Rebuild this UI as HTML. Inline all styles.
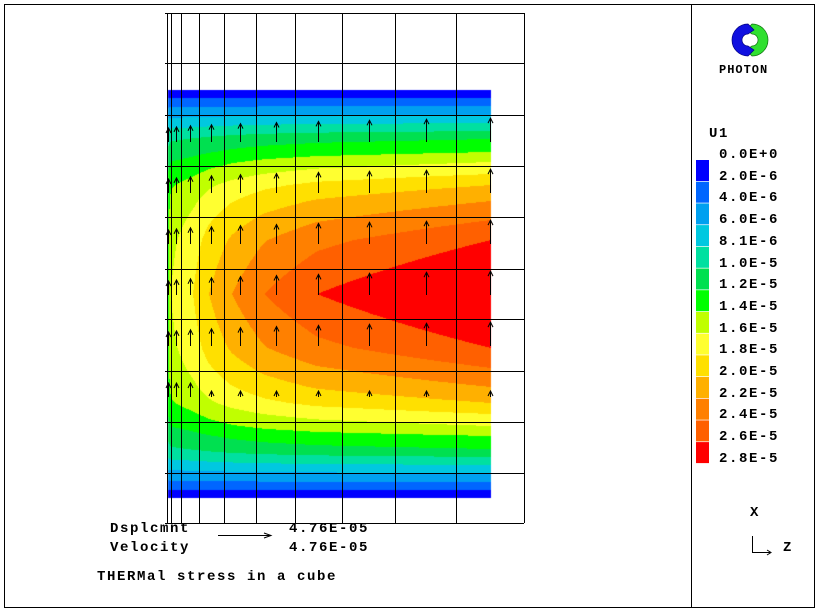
<!DOCTYPE html>
<html><head><meta charset="utf-8"><style>
body{margin:0;background:#fff;width:818px;height:611px;overflow:hidden;position:relative;font-family:"Liberation Mono",monospace;font-weight:bold}
.t{position:absolute;font-size:14px;letter-spacing:1.6px;line-height:14px;color:#000;white-space:pre}
canvas{position:absolute;left:0;top:0}
</style></head><body>
<canvas id="c" width="818" height="611"></canvas>
<svg width="818" height="611" style="position:absolute;left:0;top:0">
<rect x="4.5" y="4.5" width="810" height="603" fill="none" stroke="#000"/>
<line x1="691.5" y1="4" x2="691.5" y2="608" stroke="#000"/>
<g id="grid" stroke="#000" stroke-width="1"></g>
<g id="arr" stroke="#000" stroke-width="1" fill="none"></g>
<line x1="218" y1="535.5" x2="270" y2="535.5" stroke="#000"/>
<path d="M264 533 L271 535.5 L264 538" fill="none" stroke="#000"/>
<path d="M752 24 A16 16 0 0 1 752 56 L746 50 L752 46 A6 6 0 0 0 752 34 L746 30 Z" fill="#30e030" stroke="#107010" stroke-width="0.7"/>
<path d="M748 24 A16 16 0 0 0 748 56 L754 50 L748 46 A6 6 0 0 1 748 34 L754 30 Z" fill="#1010e0" stroke="#000080" stroke-width="0.7"/>
<g id="leg"></g>
<path d="M752.5 536 V552.5 H770" fill="none" stroke="#000"/>
<path d="M767 550 L771 552.5 L767 555" fill="none" stroke="#000"/>
</svg>
<div class="t" style="left:719px;top:63px;font-size:12px;letter-spacing:1px">PHOTON</div>
<div class="t" style="left:709px;top:127px">U1</div>
<div class="t" style="left:750px;top:506px">X</div>
<div class="t" style="left:783px;top:541px">Z</div>
<div class="t" style="left:110px;top:522px">Dsplcmnt</div>
<div class="t" style="left:110px;top:541px">Velocity</div>
<div class="t" style="left:289px;top:522px">4.76E-05</div>
<div class="t" style="left:289px;top:541px">4.76E-05</div>
<div class="t" style="left:97px;top:570px">THERMal stress in a cube</div>
<div id="labs"></div>
<script>
var cols=["#0000ff","#0066ff","#00a0f0","#00c8e0","#00e0a0","#00e050","#00ff00","#c0ff00","#ffff30","#ffe000","#ffb000","#ff8000","#ff6000","#ff0000"];
var rgb=cols.map(function(h){return [parseInt(h.substr(1,2),16),parseInt(h.substr(3,2),16),parseInt(h.substr(5,2),16)];});
function interp(pts,v){if(v<=pts[0][0])return pts[0][1];for(var i=1;i<pts.length;i++){if(v<=pts[i][0]){var a=pts[i-1],b=pts[i];return a[1]+(b[1]-a[1])*(v-a[0])/(b[0]-a[0]);}}return pts[pts.length-1][1];}
var Fp=[[90,0],[98,2],[106,4],[115,6],[123,8],[131,10],[139,12],[152,14],[162,16],[174,18],[185,20],[201,22],[220,24],[240,26],[294,29.2]];
var Vp=[[168,13.5],[171,16],[193,18],[209,20],[232,22],[264,24],[317,26],[491,29.2]];
var ctx=document.getElementById('c').getContext('2d');
var W=323,H=408,img=ctx.createImageData(W,H);
for(var y=0;y<H;y++){var yy=90+y+0.5;var ym=yy>294?588-yy:yy;var F=interp(Fp,ym);
for(var x=0;x<W;x++){var xx=168+x+0.5;var v=interp(Vp,xx);var a=1-v/29.2;var f=F*(1-a*F/29.2);
var k=Math.floor(f/2);if(k<0)k=0;if(k>13)k=13;var p=(y*W+x)*4;img.data[p]=rgb[k][0];img.data[p+1]=rgb[k][1];img.data[p+2]=rgb[k][2];img.data[p+3]=255;}}
ctx.putImageData(img,168,90);
var ns="http://www.w3.org/2000/svg";
function el(g,t,at){var e=document.createElementNS(ns,t);for(var k in at)e.setAttribute(k,at[k]);g.appendChild(e);}
var g=document.getElementById('grid');
[167,171,181,199,224,256,295,342,395,456,524].forEach(function(x){el(g,'line',{x1:x+.5,y1:13,x2:x+.5,y2:523});});
[13,63,115,166,217,269,319,371,422,473,523].forEach(function(y){el(g,'line',{x1:165,y1:y+.5,x2:524,y2:y+.5});});
var ag=document.getElementById('arr');
var ax=[168,176,190,211,240,276,318,369,426,490];
var bots=[142,193,244,295,346,397];
for(var r=0;r<6;r++)for(var c=0;c<ax.length;c++){var L=r<5?(14+c*1.1):(c<3?14:6);var x=ax[c]+.5,b=bots[r],t=b-L;
el(ag,'line',{x1:x,y1:b,x2:x,y2:t});el(ag,'path',{d:'M'+(x-2.5)+' '+(t+5)+' L'+x+' '+t+' L'+(x+2.5)+' '+(t+5)});}
var lg=document.getElementById('leg'),labs=document.getElementById('labs');
var names=["0.0E+0","2.0E-6","4.0E-6","6.0E-6","8.1E-6","1.0E-5","1.2E-5","1.4E-5","1.6E-5","1.8E-5","2.0E-5","2.2E-5","2.4E-5","2.6E-5","2.8E-5"];
for(var i=0;i<14;i++){el(lg,'rect',{x:696,y:160+i*21.7,width:13,height:21,fill:cols[i]});}
for(var i=0;i<15;i++){var d=document.createElement('div');d.className='t';d.style.left='719px';d.style.top=(148+i*21.7)+'px';d.textContent=names[i];labs.appendChild(d);}
</script>
</body></html>
